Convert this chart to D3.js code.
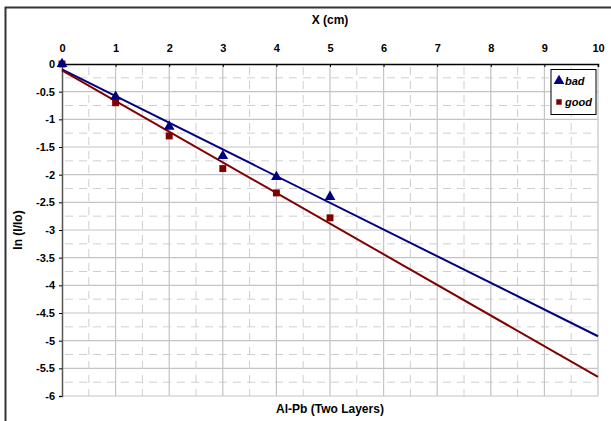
<!DOCTYPE html>
<html><head><meta charset="utf-8">
<script src="https://cdn.jsdelivr.net/npm/d3@7"></script>
<style>body{margin:0;background:#fff}svg{display:block;font-family:"Liberation Sans",Arial,sans-serif}</style>
</head><body><svg id="c" width="611" height="421"></svg>
<script>
const xValues = [0, 1, 2, 3, 4, 5];
const badValues = [0, -0.59, -1.13, -1.66, -2.04, -2.40];
const goodValues = [0, -0.70, -1.30, -1.89, -2.33, -2.78];
const seriesNames = ["bad", "good"];
const seriesColors = ["#000080", "#800000"];
const xTicks = [0,1,2,3,4,5,6,7,8,9,10];
const yTicks = [0,-0.5,-1,-1.5,-2,-2.5,-3,-3.5,-4,-4.5,-5,-5.5,-6];

const svg = d3.select("#c");
const L = 62, R = 598, T = 64, B = 396;
const x = d3.scaleLinear().domain([0,10]).range([L,R]);
const y = d3.scaleLinear().domain([0,-6]).range([T,B]);

// outer border
svg.append("rect").attr("x",5.5).attr("y",7.5).attr("width",700).attr("height",500)
  .attr("fill","none").attr("stroke","#333").attr("stroke-width",2);

// minor grid
const g = svg.append("g");
d3.range(0.5,10,1).forEach(v=>{
  g.append("line").attr("x1",x(v)).attr("x2",x(v)).attr("y1",T).attr("y2",B)
   .attr("stroke","#cfcfcf").attr("stroke-dasharray","8,6").attr("stroke-dashoffset",-3);
});
d3.range(-0.25,-6,-0.5).forEach(v=>{
  g.append("line").attr("x1",L).attr("x2",R).attr("y1",y(v)).attr("y2",y(v))
   .attr("stroke","#cfcfcf").attr("stroke-dasharray","8,6").attr("stroke-dashoffset",-3);
});
// major grid
xTicks.slice(1).forEach(v=>{
  g.append("line").attr("x1",x(v)).attr("x2",x(v)).attr("y1",T).attr("y2",B)
   .attr("stroke","#c4c4c4").attr("stroke-width",1.2);
});
yTicks.slice(1).forEach(v=>{
  g.append("line").attr("x1",L).attr("x2",R).attr("y1",y(v)).attr("y2",y(v))
   .attr("stroke","#c4c4c4").attr("stroke-width",1.2);
});

// axes
const xAxis = svg.append("g").attr("transform",`translate(0,${T})`)
  .call(d3.axisTop(x).tickValues(xTicks).tickSize(-3).tickPadding(12).tickFormat(d3.format("d")));
xAxis.select(".domain").attr("stroke","#000").attr("stroke-width",1.5);
xAxis.selectAll("text").attr("font-size",11).attr("font-weight","bold").attr("fill","#000");
const yAxis = svg.append("g").attr("transform",`translate(${L},0)`)
  .call(d3.axisLeft(y).tickValues(yTicks).tickSize(3).tickPadding(4).tickFormat(d=>String(d)));
yAxis.select(".domain").attr("stroke","#555").attr("stroke-width",1.5);
yAxis.selectAll("text").attr("font-size",11).attr("font-weight","bold").attr("fill","#000");

// trendlines (least squares)
function fit(xs, ys){
  const mx=d3.mean(xs), my=d3.mean(ys);
  const s=d3.sum(xs,(v,i)=>(v-mx)*(ys[i]-my))/d3.sum(xs,v=>(v-mx)*(v-mx));
  return [s, my-s*mx];
}
const seriesData = [badValues, goodValues];
seriesData.forEach((vals,i)=>{
  const [s,b]=fit(xValues, vals);
  svg.append("line").attr("x1",x(0)).attr("y1",y(b)).attr("x2",x(10)).attr("y2",y(b+s*10))
    .attr("stroke",seriesColors[i]).attr("stroke-width",2);
});
// markers
const tri = d3.symbol().type(d3.symbolTriangle).size(50);
const sq = d3.symbol().type(d3.symbolSquare).size(48);
svg.append("g").selectAll("path").data(xValues).join("path")
  .attr("d",sq).attr("transform",(d,i)=>`translate(${x(d)},${y(goodValues[i])})`).attr("fill",seriesColors[1]);
svg.append("g").selectAll("path").data(xValues).join("path")
  .attr("d",tri).attr("transform",(d,i)=>`translate(${x(d)},${y(badValues[i])})`).attr("fill",seriesColors[0]);

// titles
svg.append("text").attr("x",330).attr("y",24).attr("text-anchor","middle")
  .attr("font-size",12).attr("font-weight","bold").text("X (cm)");
svg.append("text").attr("x",330).attr("y",413).attr("text-anchor","middle")
  .attr("font-size",12).attr("font-weight","bold").text("Al-Pb (Two Layers)");
svg.append("text").attr("transform","translate(22,230) rotate(-90)").attr("text-anchor","middle")
  .attr("font-size",12).attr("font-weight","bold").text("ln (I/Io)");

// legend
const lg = svg.append("g");
lg.append("rect").attr("x",551).attr("y",69.5).attr("width",45).attr("height",45)
  .attr("fill","#fff").attr("stroke","#000").attr("stroke-width",1);
lg.append("path").attr("d",tri).attr("transform","translate(559,81)").attr("fill",seriesColors[0]);
lg.append("path").attr("d",d3.symbol().type(d3.symbolSquare).size(30)).attr("transform","translate(559,102)").attr("fill",seriesColors[1]);
lg.append("text").attr("x",565).attr("y",85).attr("font-size",11).attr("font-weight","bold").attr("font-style","italic").text(seriesNames[0]);
lg.append("text").attr("x",565).attr("y",106).attr("font-size",11).attr("font-weight","bold").attr("font-style","italic").text(seriesNames[1]);
</script></body></html>
